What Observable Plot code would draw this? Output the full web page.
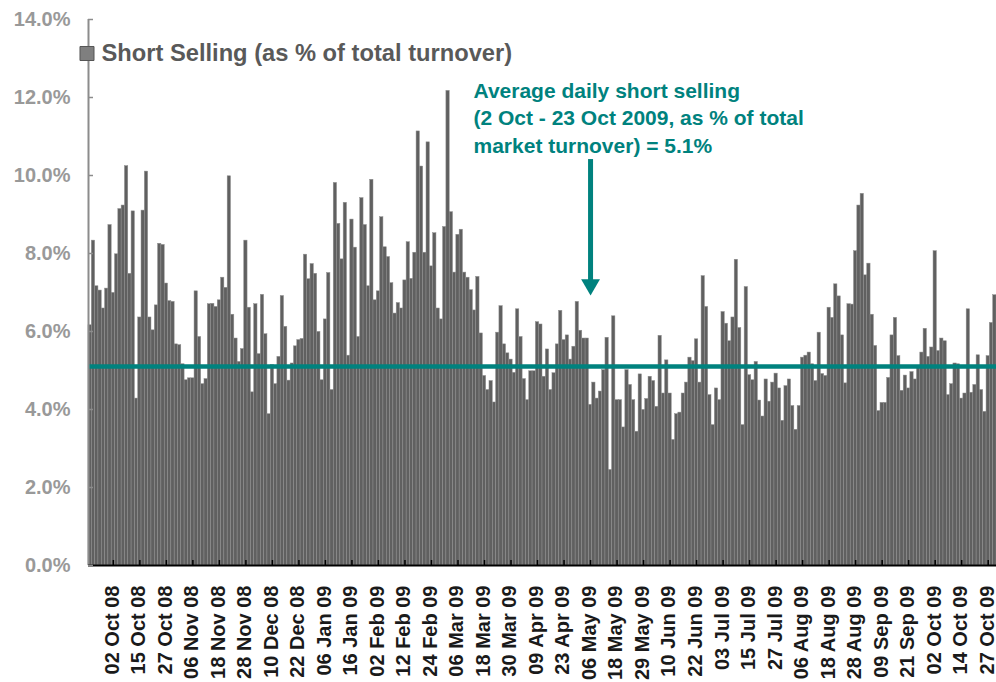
<!DOCTYPE html>
<html>
<head>
<meta charset="utf-8">
<script src="https://cdn.jsdelivr.net/npm/d3@7"></script>
<script src="https://cdn.jsdelivr.net/npm/@observablehq/plot@0.6"></script>
<style>
  html, body { margin: 0; padding: 0; background: #ffffff; }
  #chart svg { display: block; }
</style>
</head>
<body>
<div id="chart"></div>
<script>
// Daily short selling as % of total turnover (one value per trading day)
const shortSelling = [
  6.16, 8.33, 7.16, 7.05, 6.59, 7.10, 8.73, 6.99, 7.98, 9.14,
  9.23, 10.24, 7.48, 9.08, 4.28, 6.36, 9.10, 10.10, 6.36, 6.03,
  6.67, 8.25, 8.22, 7.23, 6.78, 6.76, 5.67, 5.65, 5.16, 4.75,
  4.80, 4.80, 7.03, 5.86, 4.65, 4.78, 6.70, 6.71, 6.63, 6.80,
  7.38, 7.12, 9.98, 6.43, 5.82, 5.22, 5.55, 8.33, 6.61, 4.44,
  6.70, 5.42, 6.94, 5.93, 3.88, 5.14, 4.65, 5.35, 6.91, 6.12,
  4.74, 5.18, 5.62, 5.78, 5.81, 7.97, 7.34, 7.73, 7.48, 5.99,
  4.75, 6.31, 7.50, 4.50, 9.81, 8.76, 7.85, 9.30, 5.38, 8.87,
  8.15, 5.86, 9.42, 8.73, 7.16, 9.89, 6.80, 7.03, 8.93, 8.16,
  7.91, 7.24, 6.46, 6.73, 6.59, 7.31, 8.29, 7.35, 8.02, 11.13,
  10.23, 8.02, 10.85, 7.67, 8.52, 6.59, 6.31, 8.68, 12.17, 9.06,
  7.51, 8.48, 8.61, 7.51, 7.38, 7.06, 6.54, 7.40, 5.95, 4.86,
  4.50, 4.73, 4.18, 5.97, 6.65, 5.67, 5.44, 5.28, 4.94, 6.57,
  5.86, 4.78, 4.24, 4.98, 4.98, 6.24, 6.18, 4.84, 5.54, 4.50,
  4.93, 5.67, 6.53, 5.78, 5.90, 5.28, 5.61, 6.76, 6.02, 5.82,
  5.82, 4.12, 4.69, 4.28, 4.46, 5.01, 5.84, 2.45, 6.39, 4.24,
  4.24, 3.54, 5.01, 4.63, 4.24, 3.43, 4.90, 3.99, 4.27, 4.84,
  4.73, 4.07, 5.89, 4.41, 5.26, 4.41, 3.22, 3.88, 3.92, 4.41,
  4.69, 5.33, 5.24, 5.80, 4.69, 7.42, 6.63, 4.37, 3.60, 4.54,
  4.24, 6.50, 6.20, 5.75, 6.36, 7.84, 6.09, 3.60, 7.14, 4.88,
  4.75, 5.22, 4.23, 3.82, 4.77, 4.20, 4.69, 4.92, 4.54, 3.71,
  4.60, 4.77, 4.09, 3.48, 4.09, 5.33, 5.38, 5.46, 5.16, 4.73,
  5.97, 4.91, 4.86, 6.61, 6.35, 7.21, 6.90, 5.90, 4.67, 6.70,
  6.69, 8.06, 9.23, 9.53, 7.44, 7.74, 6.43, 5.63, 3.96, 4.17,
  4.17, 4.81, 5.90, 6.35, 5.37, 4.48, 4.87, 4.54, 4.96, 4.77,
  5.08, 5.46, 6.07, 5.35, 5.59, 8.06, 5.50, 5.82, 5.75, 4.37,
  4.65, 5.18, 5.16, 4.28, 4.41, 6.57, 4.43, 4.63, 5.39, 4.50,
  3.94, 5.37, 6.22, 6.93
];

// Category axis labels: every 8th trading day, starting with the 8th bar
const tickLabels = [
  "02 Oct 08", "15 Oct 08", "27 Oct 08", "06 Nov 08", "18 Nov 08", "28 Nov 08",
  "10 Dec 08", "22 Dec 08", "06 Jan 09", "16 Jan 09", "02 Feb 09", "12 Feb 09",
  "24 Feb 09", "06 Mar 09", "18 Mar 09", "30 Mar 09", "09 Apr 09", "23 Apr 09",
  "06 May 09", "18 May 09", "29 May 09", "10 Jun 09", "22 Jun 09", "03 Jul 09",
  "15 Jul 09", "27 Jul 09", "06 Aug 09", "18 Aug 09", "28 Aug 09", "09 Sep 09",
  "21 Sep 09", "02 Oct 09", "14 Oct 09", "27 Oct 09"
];
const firstLabelIndex = 7;
const labelEvery = 8;

const yTicks = [0, 2, 4, 6, 8, 10, 12, 14];
const averageShortSelling = 5.1;
const arrowBar = 151;          // "06 May 09"
const arrowFrom = 10.05;
const arrowTo = 6.92;

const legendLabel = "Short Selling (as % of total turnover)";
const annotationText = "Average daily short selling\n(2 Oct - 23 Oct 2009, as % of total\nmarket turnover) = 5.1%";

// ---- build tables ----
const N = shortSelling.length;
const bars = shortSelling.map((v, i) => ({i, v}));
const labelIdx = tickLabels.map((_, k) => firstLabelIndex + k * labelEvery);
const labelOf = new Map(labelIdx.map((i, k) => [i, tickLabels[k]]));

const W = 996, H = 682;
const mL = 88, mR = 0, mT = 19, mB = 117;
const frameW = W - mL - mR, frameH = H - mT - mB;
const bw = frameW / N;

const teal = "#00827e";
const font = "Arial, 'Liberation Sans', Helvetica, sans-serif";

const chart = Plot.plot({
  width: W,
  height: H,
  marginLeft: mL,
  marginRight: mR,
  marginTop: mT,
  marginBottom: mB,
  style: {fontFamily: font, background: "#ffffff", overflow: "visible"},
  x: {type: "band", domain: d3.range(N), padding: 0},
  y: {domain: [0, 14]},
  marks: [
    Plot.barY(bars, {x: "i", y: "v", fill: "#606060", stroke: "#8f8f8f", strokeWidth: 0.5}),
    Plot.ruleY([averageShortSelling], {stroke: teal, strokeWidth: 4.5}),
    // axes lines
    Plot.ruleX([0], {x: d => d, dx: -bw / 2, stroke: "#8c8c8c", strokeWidth: 2}),
    Plot.ruleY([0], {stroke: "#000000", strokeWidth: 2}),
    // inward ticks
    Plot.ruleY(yTicks, {y: d => d, stroke: "#8c8c8c", strokeWidth: 1.5, insetRight: frameW - 5}),
    Plot.ruleX(labelIdx, {x: d => d, stroke: "#000000", strokeWidth: 1.5, insetTop: frameH - 5}),
    Plot.axisY(yTicks, {
      tickSize: 0, tickPadding: 18, label: null,
      tickFormat: d => d.toFixed(1) + "%",
      fontSize: 20, fontWeight: "bold", fill: "#999999"
    }),
    Plot.axisX(labelIdx, {
      tickSize: 0, tickPadding: 20, tickRotate: -90, label: null, dx: -1,
      tickFormat: i => labelOf.get(i),
      fontSize: 20, fontWeight: "bold", fill: "#1a1a1a"
    }),
    // legend
    Plot.dot([legendLabel], {frameAnchor: "top-left", dx: -1.5, dy: 34, symbol: "square", r: 7.9,
      fill: "#7f7f7f", stroke: "#555555", strokeWidth: 1}),
    Plot.text([legendLabel], {frameAnchor: "top-left", dx: 13, dy: 34, textAnchor: "start",
      lineAnchor: "middle", fontSize: 23.7, fontWeight: "bold", fill: "#595959"}),
    // annotation
    Plot.text([annotationText], {frameAnchor: "top-left", dx: 385, dy: 97, textAnchor: "start",
      lineAnchor: "middle", lineHeight: 1.3, fontSize: 21, fontWeight: "bold", fill: teal}),
    Plot.ruleX([{i: arrowBar, from: arrowFrom, to: arrowTo}], {x: "i", y1: "from", y2: "to", dy: -14,
      stroke: teal, strokeWidth: 5}),
    Plot.dot([{i: arrowBar, to: arrowTo}], {x: "i", y: "to", dy: -11, symbol: "triangle", rotate: 180, r: 7,
      fill: teal, stroke: "none"})
  ]
});

document.getElementById("chart").appendChild(chart);
</script>
</body>
</html>
